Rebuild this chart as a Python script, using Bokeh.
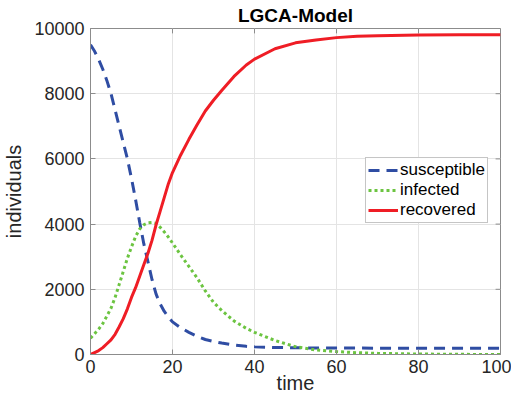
from bokeh.plotting import figure
from bokeh.models import Range1d, Legend, LegendItem, FixedTicker
from bokeh.embed import file_html
from bokeh.resources import INLINE

time = [0, 1, 2, 3, 4, 5, 6, 7, 8, 9, 10, 11, 12, 13, 14, 15, 16, 17, 18, 19, 20,
        22, 24, 26, 28, 30, 32, 35, 38, 40, 45, 50, 55, 60, 65, 70, 80, 90, 100]
susceptible = [9500, 9300, 9050, 8750, 8400, 8000, 7500, 7000, 6500, 6000, 5400,
               4750, 4050, 3400, 2850, 2300, 1850, 1550, 1320, 1150, 1000,
               820, 680, 560, 460, 400, 350, 290, 250, 235, 215, 205, 200, 198,
               196, 195, 193, 192, 190]
infected = [500, 640, 780, 950, 1180, 1420, 1750, 2150, 2550, 2950, 3300,
            3620, 3850, 3980, 4040, 4050, 4020, 3900, 3760, 3600, 3420,
            3050, 2700, 2350, 1950, 1600, 1350, 1030, 800, 680, 430, 240, 140,
            90, 55, 35, 15, 5, 0]
recovered = [0, 60, 120, 210, 330, 450, 620, 850, 1100, 1400, 1750,
             2050, 2400, 2750, 3100, 3500, 3980, 4400, 4820, 5240, 5580,
             6120, 6600, 7050, 7470, 7800, 8100, 8530, 8880, 9060, 9380, 9560,
             9650, 9720, 9760, 9780, 9800, 9810, 9810]

x_ticks = [0, 20, 40, 60, 80, 100]
y_ticks = [0, 2000, 4000, 6000, 8000, 10000]

FONT = "Liberation Sans"
AX = "#8c8c8c"
TXT = "#262626"

p = figure(width=511, height=396, output_backend="svg", toolbar_location=None,
           x_range=Range1d(0, 100), y_range=Range1d(0, 10000),
           min_border_left=90, min_border_right=11, min_border_top=25,
           min_border_bottom=40, title="LGCA-Model")

p.title.text_font = FONT
p.title.text_font_size = "19px"
p.title.text_font_style = "bold"
p.title.align = "center"
p.title.text_color = "black"
p.title.standoff = 5

for ax, lab in ((p.xaxis[0], "time"), (p.yaxis[0], "individuals")):
    ax.axis_label = lab
    ax.axis_label_text_font = FONT
    ax.axis_label_text_font_size = "20px"
    ax.axis_label_text_font_style = "normal"
    ax.axis_label_text_color = TXT
    ax.major_label_text_font = FONT
    ax.major_label_text_font_size = "18px"
    ax.major_label_text_color = TXT
    ax.axis_line_color = AX
    ax.major_tick_line_color = AX
    ax.major_tick_in = 5
    ax.major_tick_out = 0
    ax.minor_tick_line_color = None
    ax.major_label_standoff = 6

p.xaxis[0].axis_label_standoff = -4
p.xaxis[0].major_label_standoff = 5
p.yaxis[0].axis_label_standoff = 6

p.xaxis[0].ticker = FixedTicker(ticks=x_ticks)
p.yaxis[0].ticker = FixedTicker(ticks=y_ticks)

p.xgrid.ticker = FixedTicker(ticks=x_ticks)
p.ygrid.ticker = FixedTicker(ticks=y_ticks)
p.grid.grid_line_color = "#e4e4e4"
p.outline_line_color = AX

# box ticks on top and right edges (MATLAB "box on")
n_x, n_y = len(x_ticks), len(y_ticks)
p.segment(x0=x_ticks, x1=x_ticks, y0=[y_ticks[-1]] * n_x,
          y1=[y_ticks[-1] - 150] * n_x, line_color=AX, line_width=1)
p.segment(x0=[x_ticks[-1]] * n_y, x1=[x_ticks[-1] - 1.2] * n_y, y0=y_ticks,
          y1=y_ticks, line_color=AX, line_width=1)

r1 = p.line(time, susceptible, line_color="#2f4da3", line_width=3, line_dash="11 7")
r2 = p.line(time, infected, line_color="#6cc441", line_width=3, line_dash="3 3")
r3 = p.line(time, recovered, line_color="#ef1d25", line_width=3)

legend = Legend(items=[LegendItem(label="susceptible", renderers=[r1]),
                       LegendItem(label="infected", renderers=[r2]),
                       LegendItem(label="recovered", renderers=[r3])],
                location=(275, 131))
legend.label_text_font = FONT
legend.label_text_font_size = "17px"
legend.label_text_color = "black"
legend.border_line_color = AX
legend.background_fill_color = "white"
legend.glyph_width = 30
legend.glyph_height = 18
legend.label_height = 18
legend.label_standoff = 2
legend.padding = 2
legend.spacing = 0
legend.margin = 0
p.add_layout(legend, "center")

open("out.html", "w").write(file_html(p, INLINE))
